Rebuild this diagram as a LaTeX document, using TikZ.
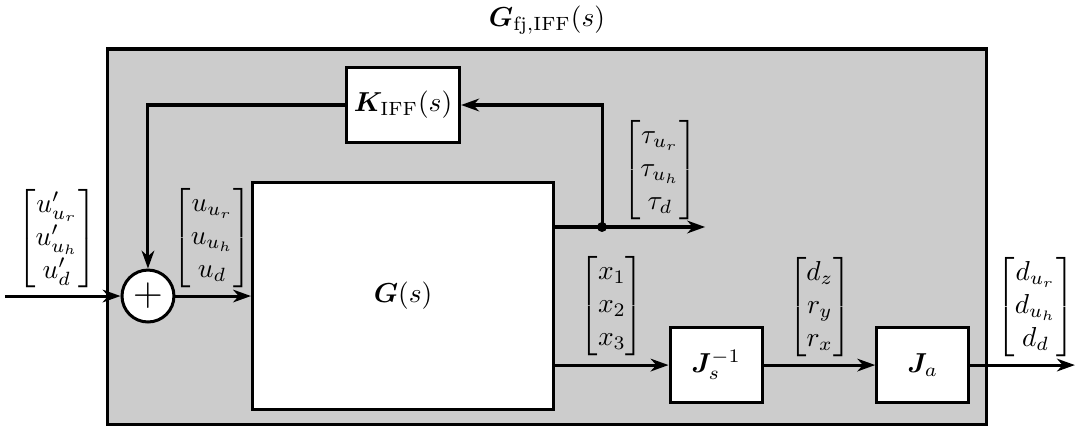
\documentclass[tikz,border=0pt]{standalone}
\usepackage{amsmath,bm}
\usetikzlibrary{arrows.meta,calc,positioning}
\definecolor{fondo}{gray}{0.8}
\tikzset{
 bloque/.style={draw,fill=white,line width=1.1pt,inner sep=0pt},
 flecha/.style={line width=1.1pt,-{Stealth[length=6.5pt,width=4.6pt,inset=2pt]}},
 linea/.style={line width=1.1pt},
}

\begin{document}
\begin{tikzpicture}
\useasboundingbox (0,0) rectangle (13.82,5.5);

% marco gris
\node[draw,fill=fondo,line width=1.1pt,minimum width=11.28cm,minimum height=4.82cm,inner sep=0pt] (marco) at (7.013,2.462) {};
\node (titulo) at (7.013,5.244) {$\bm{G}_{\text{fj},\mathrm{IFF}}(s)$};

% bloques
\node[bloque,minimum width=1.45cm,minimum height=0.97cm] (K) at (5.167,4.154) {$\bm{K}_{\mathrm{IFF}}(s)$};
\node[bloque,minimum width=3.86cm,minimum height=2.9cm] (G) at (5.167,1.705) {$\bm{G}(s)$};
\node[bloque,minimum width=1.18cm,minimum height=0.97cm] (Js) at (9.18,0.82) {$\bm{J}_s^{-1}$};
\node[bloque,minimum width=1.18cm,minimum height=0.97cm] (Ja) at (11.83,0.82) {$\bm{J}_a$};
\node[draw,circle,fill=white,line width=1.1pt,minimum size=0.666cm,inner sep=0pt] (suma) at (1.897,1.705) {\Large$+$};

% puntos auxiliares
\coordinate (entrada) at (0.064,1.705);
\coordinate (nodo) at (7.718,2.59);
\coordinate (tauout) at (9.04,2.59);
\coordinate (salida) at (13.78,0.82);

% conexiones
\draw[flecha] (entrada) -- (suma);
\draw[flecha] (suma) -- (G.west |- suma);
\draw[flecha] (G.east |- nodo) -- (tauout);
\fill (nodo) circle (0.064);
\draw[flecha] (nodo) |- (K.east);
\draw[flecha] (K.west) -| (suma.north);
\draw[flecha] (G.east |- Js) -- (Js);
\draw[flecha] (Js) -- (Ja);
\draw[flecha] (Ja) -- (salida);

% senales
\node (uprima) at (0.73,2.44) {$\begin{bmatrix} u'_{u_r} \\ u'_{u_h} \\ u'_d \end{bmatrix}$};
\node (u) at (2.72,2.45) {$\begin{bmatrix} u_{u_r} \\ u_{u_h} \\ u_d \end{bmatrix}$};
\node (tau) at (8.46,3.32) {$\begin{bmatrix} \tau_{u_r} \\ \tau_{u_h} \\ \tau_d \end{bmatrix}$};
\node (x) at (7.846,1.577) {$\begin{bmatrix} x_1 \\ x_2 \\ x_3 \end{bmatrix}$};
\node (dr) at (10.51,1.564) {$\begin{bmatrix} d_z \\ r_y \\ r_x \end{bmatrix}$};
\node (d) at (13.276,1.564) {$\begin{bmatrix} d_{u_r} \\ d_{u_h} \\ d_d \end{bmatrix}$};

\end{tikzpicture}
\end{document}
